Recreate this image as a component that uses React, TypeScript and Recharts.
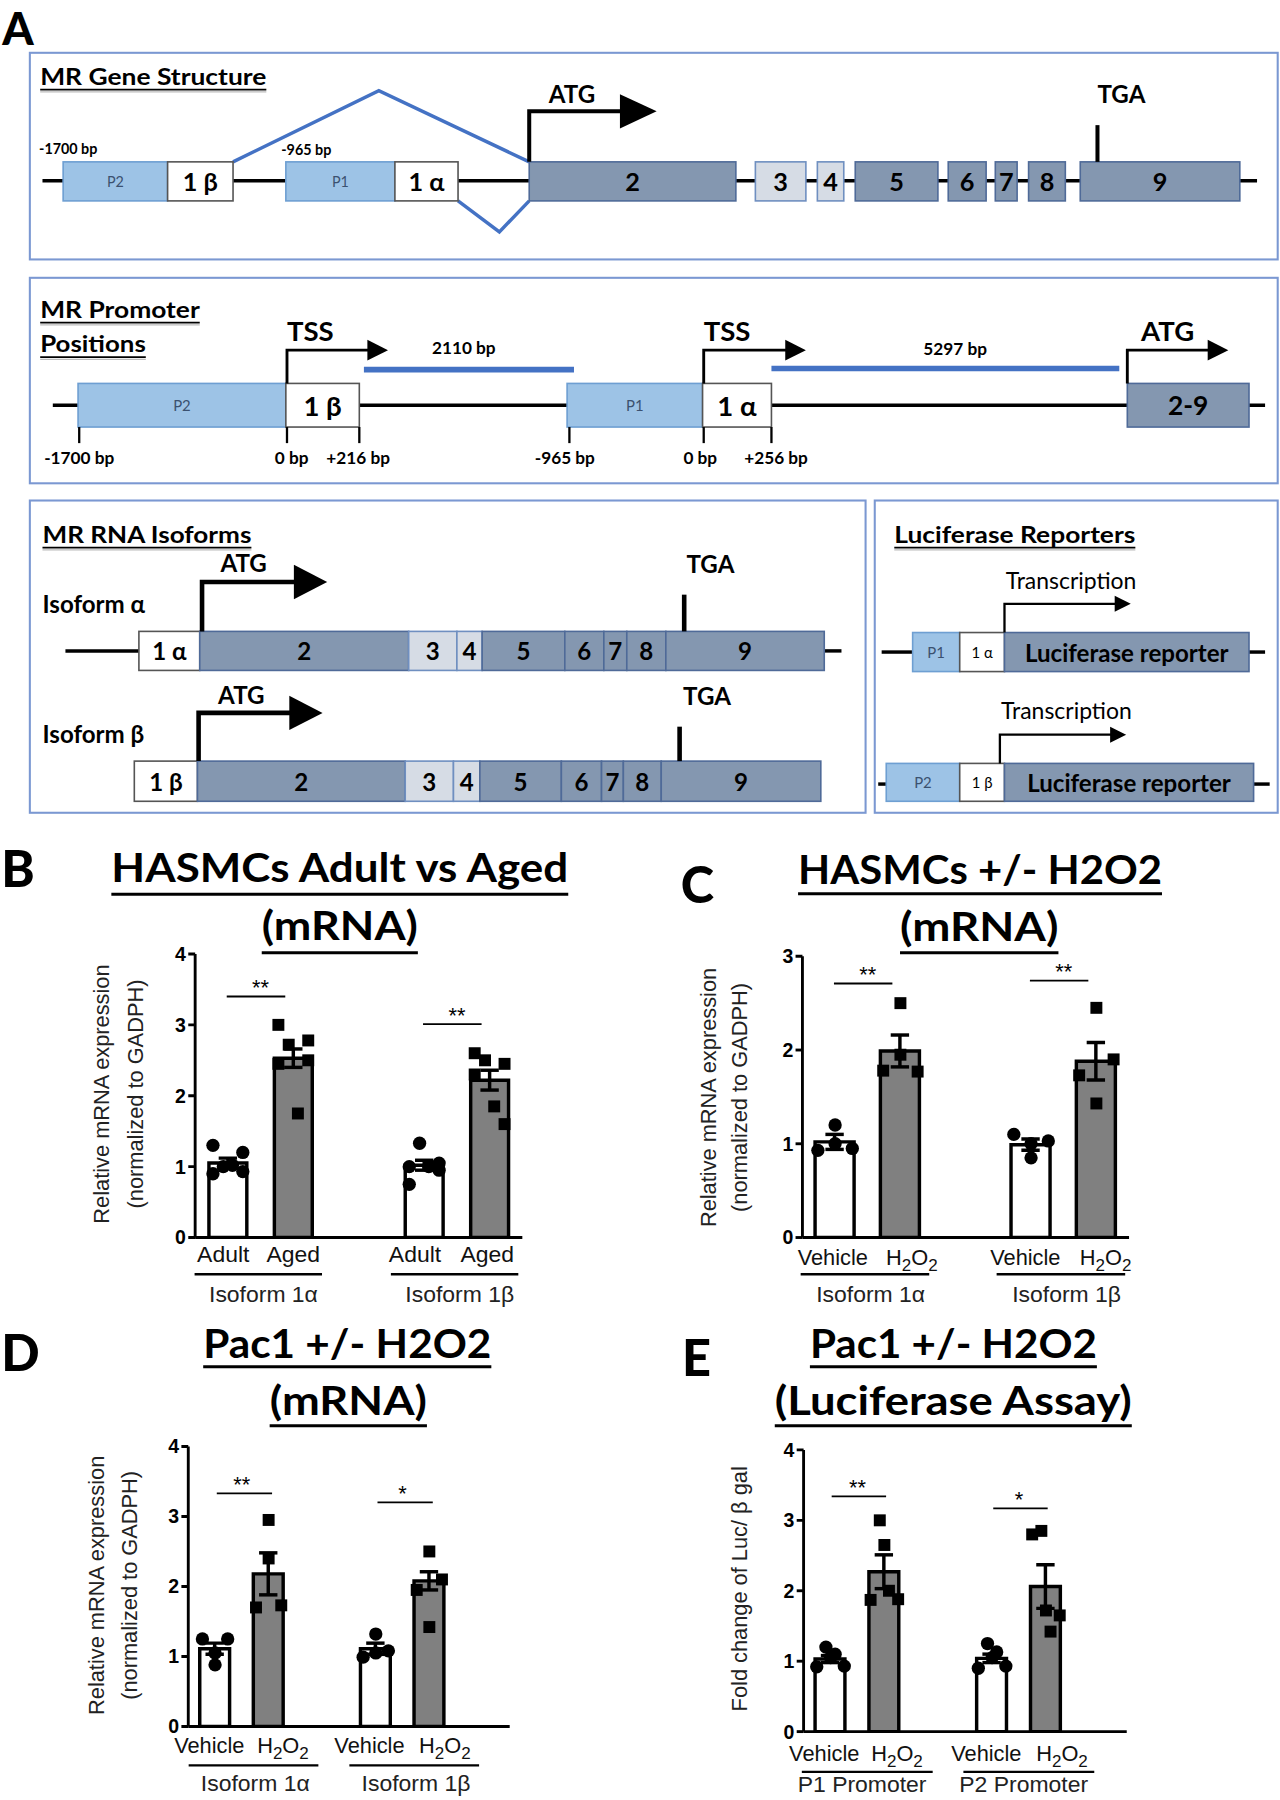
import React from 'react';
import { ComposedChart, Bar, Cell, Scatter, XAxis, YAxis, ErrorBar, ReferenceLine } from 'recharts';

// ================= DATA =================
// Panel B: HASMCs Adult vs Aged (mRNA)
const B_LABELS = ['Adult', 'Aged', 'Adult', 'Aged'];
const B_GROUPS = ['Isoform 1α', 'Isoform 1β'];
const B_MEANS = [1.05, 2.53, 1.02, 2.22];
const B_SEM = [0.07, 0.13, 0.07, 0.14];
const B_POINTS = [
  [1.3, 0.9, 1.0, 1.02, 1.2, 0.93],
  [3.0, 2.45, 2.72, 1.75, 2.78, 2.5],
  [0.75, 1.0, 1.33, 1.0, 1.05, 0.95],
  [2.6, 2.3, 2.5, 1.85, 2.45, 1.6],
];
const B_SIG_Y = [3.4, 3.01];
const B_SIG_TEXT = ['**', '**'];
const B_YTICKS = [0, 1, 2, 3, 4];

// Panel C: HASMCs +/- H2O2 (mRNA)
const C_LABELS = ['Vehicle', 'H2O2', 'Vehicle', 'H2O2'];
const C_GROUPS = ['Isoform 1α', 'Isoform 1β'];
const C_MEANS = [1.02, 1.99, 0.99, 1.88];
const C_SEM = [0.08, 0.17, 0.06, 0.2];
const C_POINTS = [
  [0.93, 1.2, 1.0, 0.95],
  [1.78, 2.5, 1.95, 1.77],
  [1.1, 0.85, 1.0, 1.03],
  [1.73, 2.45, 1.43, 1.9],
];
const C_SIG_Y = [2.71, 2.74];
const C_SIG_TEXT = ['**', '**'];
const C_YTICKS = [0, 1, 2, 3];

// Panel D: Pac1 +/- H2O2 (mRNA)
const D_LABELS = ['Vehicle', 'H2O2', 'Vehicle', 'H2O2'];
const D_GROUPS = ['Isoform 1α', 'Isoform 1β'];
const D_MEANS = [1.11, 2.18, 1.11, 2.08];
const D_SEM = [0.08, 0.3, 0.08, 0.13];
const D_POINTS = [
  [1.25, 0.88, 1.05, 1.25],
  [1.7, 2.95, 2.4, 1.73],
  [0.99, 1.32, 1.05, 1.08],
  [1.95, 2.5, 1.42, 2.1],
];
const D_SIG_Y = [3.33, 3.2];
const D_SIG_TEXT = ['**', '*'];
const D_YTICKS = [0, 1, 2, 3, 4];

// Panel E: Pac1 +/- H2O2 (Luciferase Assay)
const E_LABELS = ['Vehicle', 'H2O2', 'Vehicle', 'H2O2'];
const E_GROUPS = ['P1 Promoter', 'P2 Promoter'];
const E_MEANS = [1.03, 2.27, 1.04, 2.06];
const E_SEM = [0.05, 0.24, 0.06, 0.31];
const E_POINTS = [
  [0.92, 1.2, 1.05, 1.1, 0.93],
  [1.87, 3.0, 2.65, 2.0, 1.88],
  [0.9, 1.25, 1.05, 1.13, 0.93],
  [2.8, 2.85, 1.72, 1.42, 1.65],
];
const E_SIG_Y = [3.34, 3.17];
const E_SIG_TEXT = ['**', '*'];
const E_YTICKS = [0, 1, 2, 3, 4];

// ================= STYLE =================
const SCALE = 1280 / 1115;
const FONT = 'Lato, "Open Sans", sans-serif';
const CHART_FONT = '"Liberation Sans", Arial, sans-serif';
const LB = '#9dc3e6';
const LBS = '#6e9fd2';
const SL = '#8497b0';
const SLS = '#4f6a98';
const LG = '#d6dce5';
const LGS = '#6f8fc0';
const WBS = '#555';
const FRAME = '#7b98d2';
const BLUE = '#4472c4';
const GRAY = '#808080';

type Cfg = {
  labels: string[]; groups: string[]; means: number[]; sem: number[]; points: number[][];
  sigY: number[]; sigText: string[]; yTicks: number[]; yMax: number;
  plot: { l: number; t: number; r: number; b: number };
  trailingGap: boolean; barSize: number; jitter: number[]; tickDx: number[]; tickDy: number; tickFs: number;
  grpLine: [number, number]; grpLineDy: number; grpLabelDx: number; grpLabelDy: number; sigOff: [number, number];
};

const CFG_B: Cfg = {
  labels: B_LABELS, groups: B_GROUPS, means: B_MEANS, sem: B_SEM, points: B_POINTS,
  sigY: B_SIG_Y, sigText: B_SIG_TEXT, yTicks: B_YTICKS, yMax: 4,
  plot: { l: 170, t: 831, r: 455, b: 1078 }, trailingGap: false, barSize: 33,
  jitter: [-13, -13, -4, 4, 13, 13], tickDx: [-4, 0, -8, -2], tickDy: 21, tickFs: 20,
  grpLine: [-29, 82], grpLineDy: 32, grpLabelDx: 31, grpLabelDy: 56, sigOff: [-1, -7],
};
const CFG_C: Cfg = {
  labels: C_LABELS, groups: C_GROUPS, means: C_MEANS, sem: C_SEM, points: C_POINTS,
  sigY: C_SIG_Y, sigText: C_SIG_TEXT, yTicks: C_YTICKS, yMax: 3,
  plot: { l: 698.5, t: 833, r: 983, b: 1078 }, trailingGap: false, barSize: 34,
  jitter: [-15, 0, 0, 15], tickDx: [-2, 10, -5, 8], tickDy: 24, tickFs: 19,
  grpLine: [-30, 82], grpLineDy: 32, grpLabelDx: 31, grpLabelDy: 56, sigOff: [-1, -7],
};
const CFG_D: Cfg = {
  labels: D_LABELS, groups: D_GROUPS, means: D_MEANS, sem: D_SEM, points: D_POINTS,
  sigY: D_SIG_Y, sigText: D_SIG_TEXT, yTicks: D_YTICKS, yMax: 4,
  plot: { l: 164, t: 1259.6, r: 444, b: 1503.5 }, trailingGap: true, barSize: 26,
  jitter: [-11, 0, 0, 11], tickDx: [-5, 12.5, -5.5, 13.5], tickDy: 23, tickFs: 19,
  grpLine: [-23, 90], grpLineDy: 34, grpLabelDx: 35, grpLabelDy: 56, sigOff: [1.5, 3],
};
const CFG_E: Cfg = {
  labels: E_LABELS, groups: E_GROUPS, means: E_MEANS, sem: E_SEM, points: E_POINTS,
  sigY: E_SIG_Y, sigText: E_SIG_TEXT, yTicks: E_YTICKS, yMax: 4,
  plot: { l: 699.5, t: 1263, r: 981, b: 1508.4 }, trailingGap: true, barSize: 26,
  jitter: [-12, -4, 0, 4, 12], tickDx: [-5.5, 11, -5, 14], tickDy: 26, tickFs: 19,
  grpLine: [-25, 89], grpLineDy: 35, grpLabelDx: 27.5, grpLabelDy: 53, sigOff: [1, 1.5],
};

function buildRows(cfg: Cfg) {
  const rows: any[] = [];
  cfg.labels.forEach((_, i) => {
    const row: any = { key: 'c' + i, mean: cfg.means[i], sem: cfg.sem[i], kind: i % 2 === 0 ? 'ctrl' : 'trt' };
    cfg.points[i].forEach((v, j) => { row['p' + j] = v; });
    rows.push(row);
    if (i === 1) rows.push({ key: 'gap0', mean: null, sem: null, kind: 'gap' });
  });
  if (cfg.trailingGap) rows.push({ key: 'gap1', mean: null, sem: null, kind: 'gap' });
  return rows;
}

function TickLabel({ text, x, y, fs }: { text: string; x: number; y: number; fs: number }) {
  if (text === 'H2O2') {
    const sub = fs * 0.78;
    return (
      <text x={x} y={y} textAnchor="middle" fontSize={fs} fontFamily={CHART_FONT} fill="#111">
        H<tspan fontSize={sub} dy={5}>2</tspan><tspan dy={-5}>O</tspan><tspan fontSize={sub} dy={5}>2</tspan>
      </text>
    );
  }
  return <text x={x} y={y} textAnchor="middle" fontSize={fs} fontFamily={CHART_FONT} fill="#111">{text}</text>;
}

function XTick(props: any) {
  const { x, y, payload, cfg } = props;
  const key = String(payload?.value ?? '');
  if (!key.startsWith('c')) return <g />;
  const i = Number(key.slice(1));
  return (
    <g>
      <TickLabel text={cfg.labels[i]} x={x + cfg.tickDx[i]} y={y + cfg.tickDy} fs={cfg.tickFs} />
      {i % 2 === 0 && (
        <g>
          <line x1={x + cfg.grpLine[0]} x2={x + cfg.grpLine[1]} y1={y + cfg.grpLineDy} y2={y + cfg.grpLineDy} stroke="#000" strokeWidth={2} />
          <text x={x + cfg.grpLabelDx} y={y + cfg.grpLabelDy} textAnchor="middle" fontSize={20} fontFamily={CHART_FONT} fill="#222">{cfg.groups[i / 2]}</text>
        </g>
      )}
    </g>
  );
}

function dotShape(props: any, j: number, cfg: Cfg) {
  const { cx, cy, payload } = props;
  if (!payload || payload['p' + j] == null || cx == null || cy == null || isNaN(cx) || isNaN(cy)) return <g />;
  const x = cx + cfg.jitter[j];
  if (payload.kind === 'ctrl') return <circle cx={x} cy={cy} r={5.8} fill="#000" />;
  return <rect x={x - 5.2} y={cy - 5.2} width={10.4} height={10.4} fill="#000" />;
}

function BarPanel({ cfg }: { cfg: Cfg }) {
  const rows = buildRows(cfg);
  const YW = 50, XH = 80, ML = 10, MR = 10, MT = 20;
  const left = cfg.plot.l - YW - ML;
  const top = cfg.plot.t - MT;
  const width = cfg.plot.r + MR - left;
  const height = cfg.plot.b + XH - top;
  const nPts = cfg.points[0].length;
  return (
    <div style={{ position: 'absolute', left, top, width, height }}>
      <ComposedChart width={width} height={height} data={rows} margin={{ top: MT, right: MR, bottom: 0, left: ML }}>
        <XAxis
          dataKey="key" type="category" interval={0} tickLine={false} tickSize={0} tickMargin={0}
          axisLine={{ stroke: '#000', strokeWidth: 2.5 }} height={XH}
          tick={(p: any) => <XTick {...p} cfg={cfg} />}
        />
        <YAxis
          type="number" domain={[0, cfg.yMax]} ticks={cfg.yTicks} interval={0} width={YW}
          tickSize={6} tickMargin={2} allowDataOverflow
          axisLine={{ stroke: '#000', strokeWidth: 2.5 }} tickLine={{ stroke: '#000', strokeWidth: 2.5 }}
          tick={{ fill: '#000', fontSize: 17, fontWeight: 700, fontFamily: CHART_FONT }}
        />
        <Bar dataKey="mean" barSize={cfg.barSize} stroke="#000" strokeWidth={3} isAnimationActive={false}>
          {rows.map((r) => <Cell key={r.key} fill={r.kind === 'trt' ? GRAY : '#fff'} />)}
          <ErrorBar dataKey="sem" width={8} strokeWidth={3} stroke="#000" direction="y" isAnimationActive={false} />
        </Bar>
        {Array.from({ length: nPts }, (_, j) => (
          <Scatter key={'s' + j} dataKey={'p' + j} isAnimationActive={false} shape={(p: any) => dotShape(p, j, cfg)} />
        ))}
        {cfg.sigY.map((yv, g) => (
          <ReferenceLine
            key={'sig' + g}
            segment={[{ x: 'c' + 2 * g, y: yv }, { x: 'c' + (2 * g + 1), y: yv }]}
            stroke="#000" strokeWidth={1.6} ifOverflow="visible"
            shape={(p: any) => <line x1={p.x1 + cfg.sigOff[0]} y1={p.y1} x2={p.x2 + cfg.sigOff[1]} y2={p.y2} stroke="#000" strokeWidth={1.6} />}
            label={{ value: cfg.sigText[g], position: 'top', offset: 1, fontSize: 19, fill: '#000', fontFamily: CHART_FONT }}
          />
        ))}
      </ComposedChart>
    </div>
  );
}

// ================= DIAGRAM HELPERS =================
function Blk({ x1, x2, y1, y2, fill, stroke, sw = 1.4, label, fs = 22, fw = 700, color = '#000' }: any) {
  return (
    <g>
      <rect x={x1} y={y1} width={x2 - x1} height={y2 - y1} fill={fill} stroke={stroke} strokeWidth={sw} />
      {label != null && (
        <text x={(x1 + x2) / 2} y={(y1 + y2) / 2} textAnchor="middle" dominantBaseline="central" fontSize={fs} fontWeight={fw} fill={color} fontFamily={FONT}>{label}</text>
      )}
    </g>
  );
}

function BentArrow({ x, y0, y1, x1, hl, hh, sw }: any) {
  return (
    <g>
      <path d={`M${x},${y0} V${y1} H${x1 + 1}`} fill="none" stroke="#000" strokeWidth={sw} />
      <polygon points={`${x1},${y1 - hh} ${x1 + hl},${y1} ${x1},${y1 + hh}`} fill="#000" />
    </g>
  );
}

function T({ x, y, children, fs = 20, fw = 700, anchor = 'start', fill = '#000', family = FONT }: any) {
  return <text x={x} y={y} fontSize={fs} fontWeight={fw} textAnchor={anchor} fill={fill} fontFamily={family}>{children}</text>;
}

function UText({ x, y, text, w, fs = 20 }: any) {
  return (
    <g>
      <text x={x} y={y} fontSize={fs} fontWeight={700} fontFamily={FONT} textLength={w} lengthAdjust="spacingAndGlyphs">{text}</text>
      <line x1={x} x2={x + w} y1={y + 4} y2={y + 4} stroke="#000" strokeWidth={1.5} />
      <line x1={x} x2={x + w} y1={y + 6} y2={y + 6} stroke="#bbb" strokeWidth={1} />
    </g>
  );
}

function UTitle({ cx, y, text, w, uy, fs = 35 }: any) {
  return (
    <g>
      <text x={cx} y={y} textAnchor="middle" fontSize={fs} fontWeight={700} fontFamily={FONT} textLength={w} lengthAdjust="spacingAndGlyphs">{text}</text>
      <line x1={cx - w / 2} x2={cx + w / 2} y1={uy} y2={uy} stroke="#000" strokeWidth={2.6} />
    </g>
  );
}

function YLab({ x, cy, text, fs = 19 }: any) {
  return (
    <text transform={`translate(${x},${cy}) rotate(-90)`} textAnchor="middle" dominantBaseline="central" fontSize={fs} fontFamily={CHART_FONT} fill="#222">{text}</text>
  );
}

function Letter({ x, y, ch, fs = 44 }: any) {
  return <text x={x} y={y} fontSize={fs} fontWeight={900} fontFamily={FONT} fill="#000">{ch}</text>;
}

function Line({ x1, x2, y1, y2, sw = 3, stroke = '#000' }: any) {
  return <line x1={x1} x2={x2} y1={y1} y2={y2 ?? y1} stroke={stroke} strokeWidth={sw} />;
}

function PanelA() {
  return (
    <g>
      <Letter x={2} y={39} ch="A" fs={39} />
      {/* Box 1 */}
      <rect x={26} y={46} width={1087} height={180} fill="none" stroke={FRAME} strokeWidth={1.8} />
      <UText x={35} y={74} text="MR Gene Structure" w={197} />
      <T x={34} y={134} fs={12.5}>-1700 bp</T>
      <T x={245} y={135} fs={12.5}>-965 bp</T>
      <Line x1={37} x2={1095} y1={157.5} />
      <polyline points="203,141 330,79 461,141" fill="none" stroke={BLUE} strokeWidth={3} />
      <polyline points="399,175 435,202 461,175" fill="none" stroke={BLUE} strokeWidth={3} />
      <Blk x1={55} x2={146} y1={141} y2={175} fill={LB} stroke={LBS} label="P2" fs={12.5} fw={400} color="#3b5170" />
      <Blk x1={146} x2={203} y1={141} y2={175} fill="#fff" stroke={WBS} label="1 β" />
      <Blk x1={249} x2={344} y1={141} y2={175} fill={LB} stroke={LBS} label="P1" fs={12.5} fw={400} color="#3b5170" />
      <Blk x1={344} x2={399} y1={141} y2={175} fill="#fff" stroke={WBS} label="1 α" />
      <Blk x1={461} x2={641} y1={141} y2={175} fill={SL} stroke={SLS} label="2" />
      <Blk x1={658} x2={702} y1={141} y2={175} fill={LG} stroke={LGS} label="3" />
      <Blk x1={712} x2={735} y1={141} y2={175} fill={LG} stroke={LGS} label="4" />
      <Blk x1={745} x2={817} y1={141} y2={175} fill={SL} stroke={SLS} label="5" />
      <Blk x1={826} x2={859} y1={141} y2={175} fill={SL} stroke={SLS} label="6" />
      <Blk x1={867} x2={886} y1={141} y2={175} fill={SL} stroke={SLS} label="7" />
      <Blk x1={896} x2={928} y1={141} y2={175} fill={SL} stroke={SLS} label="8" />
      <Blk x1={941} x2={1080} y1={141} y2={175} fill={SL} stroke={SLS} label="9" />
      <BentArrow x={461} y0={141} y1={97} x1={540} hl={32} hh={15} sw={3.5} />
      <T x={478} y={90} fs={21}>ATG</T>
      <Line x1={956} x2={956} y1={109} y2={141} sw={3.5} />
      <T x={956} y={90} fs={21}>TGA</T>

      {/* Box 2 */}
      <rect x={26} y={242} width={1087} height={179} fill="none" stroke={FRAME} strokeWidth={1.8} />
      <UText x={35} y={277} text="MR Promoter" w={139} />
      <UText x={35} y={307} text="Positions" w={92} />
      <Line x1={46} x2={1102} y1={353} />
      <Line x1={317} x2={500} y1={322} sw={5} stroke={BLUE} />
      <Line x1={672} x2={975} y1={321} sw={5} stroke={BLUE} />
      <T x={404} y={308} fs={15} anchor="middle">2110 bp</T>
      <T x={832} y={309} fs={15} anchor="middle">5297 bp</T>
      <Blk x1={68} x2={249} y1={334} y2={372} fill={LB} stroke={LBS} label="P2" fs={13} fw={400} color="#3b5170" />
      <Blk x1={249} x2={313} y1={334} y2={372} fill="#fff" stroke={WBS} label="1 β" fs={24} />
      <Blk x1={494} x2={612} y1={334} y2={372} fill={LB} stroke={LBS} label="P1" fs={13} fw={400} color="#3b5170" />
      <Blk x1={612} x2={672} y1={334} y2={372} fill="#fff" stroke={WBS} label="1 α" fs={24} />
      <Blk x1={982} x2={1088} y1={334} y2={372} fill={SL} stroke={SLS} label="2-9" fs={23} />
      <BentArrow x={250} y0={334} y1={305} x1={320} hl={18} hh={9} sw={2.5} />
      <BentArrow x={613} y0={334} y1={305} x1={684} hl={18} hh={9} sw={2.5} />
      <BentArrow x={982} y0={334} y1={305} x1={1052} hl={18} hh={9} sw={2.5} />
      <T x={250} y={297} fs={24}>TSS</T>
      <T x={613} y={297} fs={24}>TSS</T>
      <T x={994} y={297} fs={24}>ATG</T>
      {[69, 250, 313, 496, 613, 672].map((x) => <Line key={x} x1={x} x2={x} y1={372} y2={386} sw={2} />)}
      <T x={69} y={404} fs={15} anchor="middle">-1700 bp</T>
      <T x={254} y={404} fs={15} anchor="middle">0 bp</T>
      <T x={312} y={404} fs={15} anchor="middle">+216 bp</T>
      <T x={492} y={404} fs={15} anchor="middle">-965 bp</T>
      <T x={610} y={404} fs={15} anchor="middle">0 bp</T>
      <T x={676} y={404} fs={15} anchor="middle">+256 bp</T>

      {/* Box 3 */}
      <rect x={26} y={436} width={728} height={272} fill="none" stroke={FRAME} strokeWidth={1.8} />
      <UText x={37} y={473} text="MR RNA Isoforms" w={182} />
      <T x={37} y={534} fs={21}>Isoform α</T>
      <T x={37} y={647} fs={21}>Isoform β</T>
      <Line x1={57} x2={121} y1={567} />
      <Line x1={718} x2={733} y1={567} />
      <Blk x1={121} x2={174} y1={550} y2={584} fill="#fff" stroke={WBS} label="1 α" fs={21} />
      <Blk x1={174} x2={356} y1={550} y2={584} fill={SL} stroke={SLS} label="2" fs={21} />
      <Blk x1={356} x2={398} y1={550} y2={584} fill={LG} stroke={LGS} label="3" fs={21} />
      <Blk x1={398} x2={420} y1={550} y2={584} fill={LG} stroke={LGS} label="4" fs={21} />
      <Blk x1={420} x2={492} y1={550} y2={584} fill={SL} stroke={SLS} label="5" fs={21} />
      <Blk x1={492} x2={526} y1={550} y2={584} fill={SL} stroke={SLS} label="6" fs={21} />
      <Blk x1={526} x2={546} y1={550} y2={584} fill={SL} stroke={SLS} label="7" fs={21} />
      <Blk x1={546} x2={580} y1={550} y2={584} fill={SL} stroke={SLS} label="8" fs={21} />
      <Blk x1={580} x2={718} y1={550} y2={584} fill={SL} stroke={SLS} label="9" fs={21} />
      <BentArrow x={176} y0={550} y1={507} x1={256} hl={29} hh={15} sw={4} />
      <T x={192} y={498} fs={21}>ATG</T>
      <Line x1={596} x2={596} y1={518} y2={550} sw={4} />
      <T x={598} y={499} fs={21}>TGA</T>

      <Blk x1={117} x2={172} y1={663} y2={698} fill="#fff" stroke={WBS} label="1 β" fs={21} />
      <Blk x1={172} x2={353} y1={663} y2={698} fill={SL} stroke={SLS} label="2" fs={21} />
      <Blk x1={353} x2={395} y1={663} y2={698} fill={LG} stroke={LGS} label="3" fs={21} />
      <Blk x1={395} x2={418} y1={663} y2={698} fill={LG} stroke={LGS} label="4" fs={21} />
      <Blk x1={418} x2={489} y1={663} y2={698} fill={SL} stroke={SLS} label="5" fs={21} />
      <Blk x1={489} x2={524} y1={663} y2={698} fill={SL} stroke={SLS} label="6" fs={21} />
      <Blk x1={524} x2={543} y1={663} y2={698} fill={SL} stroke={SLS} label="7" fs={21} />
      <Blk x1={543} x2={576} y1={663} y2={698} fill={SL} stroke={SLS} label="8" fs={21} />
      <Blk x1={576} x2={715} y1={663} y2={698} fill={SL} stroke={SLS} label="9" fs={21} />
      <BentArrow x={173} y0={663} y1={621} x1={252} hl={29} hh={15} sw={4} />
      <T x={190} y={613} fs={21}>ATG</T>
      <Line x1={592} x2={592} y1={633} y2={663} sw={4} />
      <T x={595} y={614} fs={21}>TGA</T>

      {/* Box 4 */}
      <rect x={762} y={436} width={351} height={272} fill="none" stroke={FRAME} strokeWidth={1.8} />
      <UText x={779} y={473} text="Luciferase Reporters" w={210} />
      <Line x1={768} x2={795} y1={568} />
      <Line x1={1088} x2={1102} y1={568} />
      <Blk x1={795} x2={836} y1={551} y2={585} fill={LB} stroke={LBS} label="P1" fs={13} fw={400} color="#3b5170" />
      <Blk x1={836} x2={875} y1={551} y2={585} fill="#fff" stroke={WBS} label="1 α" fs={13} fw={400} />
      <Blk x1={875} x2={1088} y1={551} y2={585} fill={SL} stroke={SLS} label="Luciferase reporter" fs={21} />
      <BentArrow x={875} y0={551} y1={526} x1={971} hl={14} hh={7} sw={2} />
      <T x={876} y={513} fs={20} fw={400}>Transcription</T>

      <Line x1={765} x2={772} y1={683} />
      <Line x1={1092} x2={1106} y1={683} />
      <Blk x1={772} x2={836} y1={665} y2={698} fill={LB} stroke={LBS} label="P2" fs={13} fw={400} color="#3b5170" />
      <Blk x1={836} x2={875} y1={665} y2={698} fill="#fff" stroke={WBS} label="1 β" fs={13} fw={400} />
      <Blk x1={875} x2={1092} y1={665} y2={698} fill={SL} stroke={SLS} label="Luciferase reporter" fs={21} />
      <BentArrow x={871} y0={665} y1={640} x1={967} hl={14} hh={7} sw={2} />
      <T x={872} y={626} fs={20} fw={400}>Transcription</T>
    </g>
  );
}

function Annotations() {
  return (
    <g>
      <Letter x={1} y={773} ch="B" />
      <Letter x={593} y={787} ch="C" />
      <Letter x={1} y={1194} ch="D" />
      <Letter x={594} y={1199} ch="E" />
      <UTitle cx={296} y={768} text="HASMCs Adult vs Aged" w={398} uy={779} />
      <UTitle cx={296} y={819} text="(mRNA)" w={136} uy={830} />
      <UTitle cx={853.7} y={770} text="HASMCs +/- H2O2" w={317} uy={778.5} />
      <UTitle cx={853} y={820} text="(mRNA)" w={138} uy={830} />
      <UTitle cx={302.5} y={1183} text="Pac1 +/- H2O2" w={251} uy={1190.5} />
      <UTitle cx={303.4} y={1233} text="(mRNA)" w={137} uy={1242} />
      <UTitle cx={830.5} y={1183} text="Pac1 +/- H2O2" w={250} uy={1190.5} />
      <UTitle cx={830.4} y={1233} text="(Luciferase Assay)" w={311} uy={1242} />
      <YLab x={88.6} cy={953} text="Relative mRNA expression" />
      <YLab x={117.6} cy={953} text="(normalized to GADPH)" />
      <YLab x={617} cy={956} text="Relative mRNA expression" />
      <YLab x={644.6} cy={956} text="(normalized to GADPH)" />
      <YLab x={84.2} cy={1381} text="Relative mRNA expression" />
      <YLab x={113.2} cy={1381} text="(normalized to GADPH)" />
      <YLab x={644.6} cy={1384} text="Fold change of Luc/ β gal" />
    </g>
  );
}

export default function App() {
  return (
    <div style={{ position: 'absolute', left: 0, top: 0, width: 1280, height: 1800, overflow: 'hidden', background: '#fff' }}>
      <div style={{ position: 'absolute', left: 0, top: 0, width: 1115, height: 1568, transform: `scale(${SCALE})`, transformOrigin: '0 0' }}>
        <svg width={1115} height={1568} style={{ position: 'absolute', left: 0, top: 0 }}>
          <PanelA />
          <Annotations />
        </svg>
        <BarPanel cfg={CFG_B} />
        <BarPanel cfg={CFG_C} />
        <BarPanel cfg={CFG_D} />
        <BarPanel cfg={CFG_E} />
      </div>
    </div>
  );
}
